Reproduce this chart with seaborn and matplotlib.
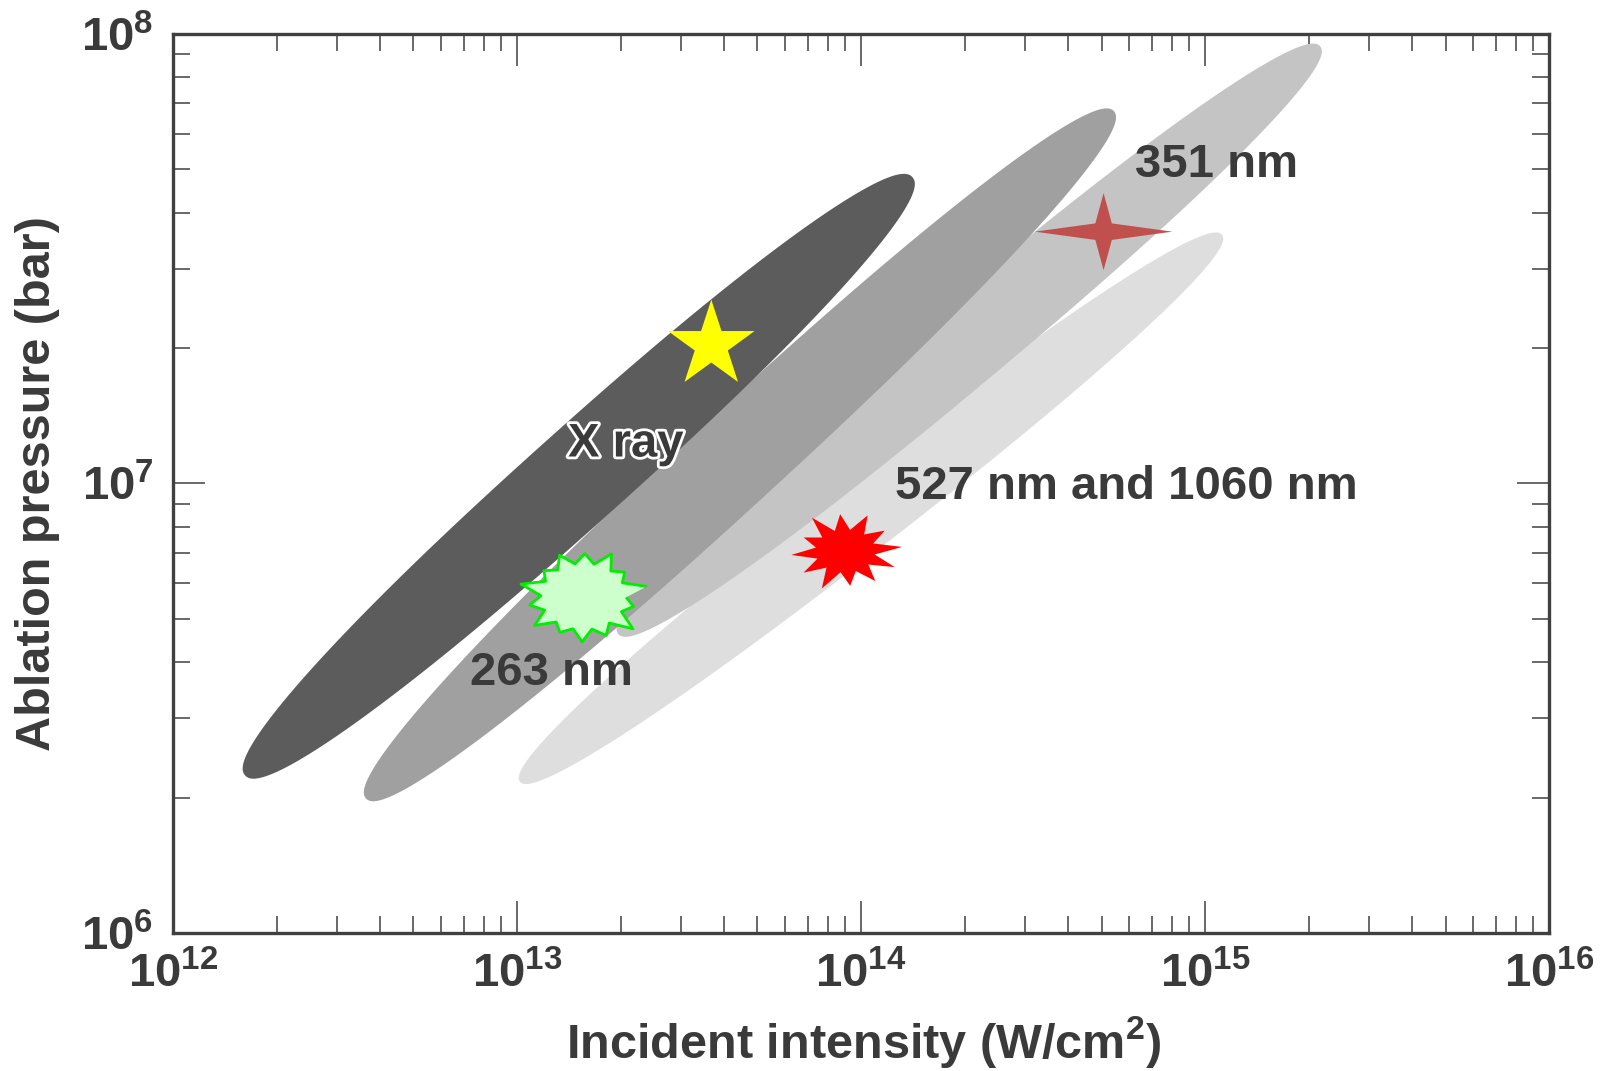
import numpy as np
import pandas as pd
import seaborn as sns
import matplotlib.pyplot as plt
import matplotlib.patheffects as pe

# band end points (lower-left tip, upper-right tip), intensity in W/cm2, pressure in bar
bands = ["527 nm and 1060 nm", "351 nm", "263 nm", "X ray"]
band_I = [[1.02e13, 1.12e15], [1.97e13, 2.16e15], [3.64e12, 5.43e14], [1.62e12, 1.41e14]]
band_P = [[2.17e6, 3.57e7], [4.62e6, 9.38e7], [1.99e6, 6.73e7], [2.24e6, 4.80e7]]
band_colors = ["#dedede", "#c4c4c4", "#a0a0a0", "#5c5c5c"]
band_halfw = [37, 42, 47, 48]  # px

# label positions
label_I = [5.9e14, 1.08e15, 1.26e13, 2.07e13]
label_P = [9.8e6, 5.12e7, 3.78e6, 1.22e7]

# marker points
mark_names = ["yellow star", "green burst", "red burst", "brown star"]
mark_I = [3.67e13, 1.55e13, 9.0e13, 5.07e14]
mark_P = [2.03e7, 5.62e6, 7.07e6, 3.63e7]

W, H = 1617, 1071
sns.set_theme(style="white")
plt.rcParams["font.family"] = ["Liberation Sans", "DejaVu Sans"]
plt.rcParams["mathtext.default"] = "regular"

fig = plt.figure(figsize=(W / 100, H / 100), dpi=100)
pos = [0.107, 0.129, 0.851, 0.8394]
ax = fig.add_axes(pos)
ax.set_xscale("log")
ax.set_yscale("log")
ax.set_xlim(1e12, 1e16)
ax.set_ylim(1e6, 1e8)

# px per decade
sx = pos[2] * W / 4
sy = pos[3] * H / 2


def band(I, P, hw, color):
    x = np.log10(I) * sx
    y = np.log10(P) * sy
    c = np.array([x.mean(), y.mean()])
    v = np.array([x[1] - x[0], y[1] - y[0]]) / 2
    u = np.array([-v[1], v[0]]) / np.hypot(*v) * hw
    t = np.linspace(0, 2 * np.pi, 300)
    n = 2.2
    a = np.sign(np.cos(t)) * np.abs(np.cos(t)) ** (2 / n)
    b = np.sign(np.sin(t)) * np.abs(np.sin(t)) ** (2 / n)
    px = c[0] + a * v[0] + b * u[0]
    py = c[1] + a * v[1] + b * u[1]
    ax.fill(10 ** (px / sx), 10 ** (py / sy), color=color, lw=0, zorder=1)


for I, P, hw, col in zip(band_I, band_P, band_halfw, band_colors):
    band(np.array(I), np.array(P), hw, col)


def burst(outer, inner, yscale, rot=0.0):
    n = len(outer)
    ang = np.linspace(0, 2 * np.pi, 2 * n, endpoint=False) + rot
    r = np.empty(2 * n)
    r[0::2] = outer
    r[1::2] = inner
    return np.column_stack([r * np.cos(ang), r * np.sin(ang) * yscale])


green = burst([1.0, 0.8, 0.95, 0.85, 0.9, 0.8, 1.0, 0.85, 0.95, 0.8, 0.9, 0.85, 1.0, 0.8],
              0.66, 0.78, 0.2)
red = burst([1.0, 0.85, 0.95, 0.9, 1.0, 0.8, 0.95, 0.9, 1.0, 0.85, 0.9, 0.95], 0.52, 0.72, 0.1)
four = burst([1.0, 0.56, 1.0, 0.56], 0.17, 1.0, 0.0)

marks = pd.DataFrame({"name": mark_names, "I": mark_I, "P": mark_P})
styles = {
    "yellow star": dict(marker="*", s=4300, color="#ffff00", edgecolor="none", linewidth=0),
    "green burst": dict(marker=green, s=8300, color="#ccffcc", edgecolor="#00ee00", linewidth=2),
    "red burst": dict(marker=red, s=6700, color="#ff0000", edgecolor="none", linewidth=0),
    "brown star": dict(marker=four, s=9800, color="#c0504d", edgecolor="none", linewidth=0),
}
for name, st in styles.items():
    sub = marks[marks["name"] == name]
    sns.scatterplot(data=sub, x="I", y="P", ax=ax, zorder=5, legend=False, **st)

txt = "#3a3a3a"
for lab, I, P in zip(bands, label_I, label_P):
    t = ax.text(I, P, lab, ha="center", va="center", fontsize=34, fontweight="bold",
                color=txt, zorder=6)
    if lab == "X ray":
        t.set_path_effects([pe.withStroke(linewidth=4, foreground="white")])

for s in ax.spines.values():
    s.set_color("#404040")
    s.set_linewidth(2.4)
    s.set_visible(True)
ax.tick_params(which="both", direction="in", top=True, right=True, bottom=True, left=True,
               color="#404040", width=1.1)
ax.tick_params(which="major", length=23, labelsize=34, pad=14, labelcolor=txt)
ax.tick_params(which="minor", length=12)
for lab in ax.get_xticklabels() + ax.get_yticklabels():
    lab.set_fontweight("bold")

ax.set_xlabel("Incident intensity (W/cm$^{2}$)", fontsize=35, fontweight="bold", color=txt)
ax.set_ylabel("Ablation pressure (bar)", fontsize=35, fontweight="bold", color=txt)
ax.xaxis.set_label_coords(0.502, -0.09)
ax.yaxis.set_label_coords(-0.082, 0.5)
ax.grid(False)

plt.savefig("out.png", dpi=100)
plt.close()
